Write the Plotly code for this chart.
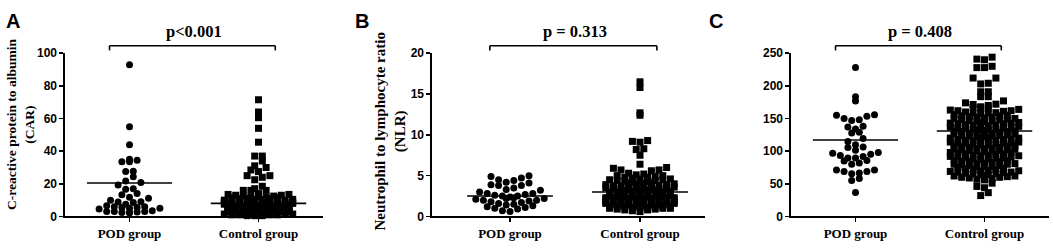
import math
import plotly.graph_objects as go

# ---------------- data ----------------
categories = ["POD group", "Control group"]
panel_letters = ["A", "B", "C"]
p_labels = ["p<0.001", "p = 0.313", "p = 0.408"]
y_titles = ["C-reactive protein to albumin<br>(CAR)",
            "Neutrophil to lymphocyte ratio<br>(NLR)", ""]

ticks_A = [0, 20, 40, 60, 80, 100]
ticks_B = [0, 5, 10, 15, 20]
ticks_C = [0, 50, 100, 150, 200, 250]

car_pod = [93, 55, 44, 35, 34.5, 33.5, 33.5, 27.7, 27.5, 24.3, 21.8, 20.8, 19.3,
           17, 16.6, 14, 13.3, 11.7, 11.2, 10, 9, 8.9, 8.5, 7.5, 6.5, 6, 6, 5.5,
           5.5, 5, 5, 4.5, 3.5, 3, 3, 3, 2.8, 2.5, 2.5, 2.2]
car_ctrl = [71.5, 64, 60.5, 54, 45.5, 37, 37, 34, 31, 30, 28.5, 27.5, 25, 25, 24,
            22.5, 18.5, 17, 16, 16, 16,
            14, 13.5, 13.5, 13, 13, 12.5, 12.5, 12, 12, 12, 11.5, 11.5, 11, 11, 11,
            10.5, 10.5, 10.5, 10, 10, 10, 10, 9.5, 9.5, 9.5, 9, 9, 9, 9, 8.5, 8.5,
            8.5, 8.5, 8, 8, 8, 8, 8, 7.5, 7.5, 7.5, 7.5, 7, 7, 7, 7, 7, 6.5, 6.5,
            6.5, 6.5, 6.5, 6, 6, 6, 6, 6, 6, 5.5, 5.5, 5.5, 5.5, 5.5, 5, 5, 5, 5,
            5, 5, 4.5, 4.5, 4.5, 4.5, 4.5, 4.5, 4, 4, 4, 4, 4, 4, 4, 3.5, 3.5, 3.5,
            3.5, 3.5, 3.5, 3, 3, 3, 3, 3, 3, 3, 2.5, 2.5, 2.5, 2.5, 2.5, 2.5, 2, 2,
            2, 2, 2, 2, 1.5, 1.5, 1.5, 1.5, 1.5, 1, 1, 1, 1, 0.5, 0.5, 0.5]
car_means = [20.5, 8.0]

nlr_pod = [5.0, 4.9, 4.7, 4.5, 4.4, 4.2, 4.1, 3.9, 3.8, 3.8, 3.5, 3.3, 3.2, 3.0,
           2.8, 2.8, 2.7, 2.6, 2.5, 2.5, 2.4, 2.3, 2.2, 2.2, 2.1, 2.0, 2.0, 1.9,
           1.8, 1.7, 1.6, 1.5, 1.4, 1.3, 1.2, 1.1, 1.0, 0.9, 0.7, 0.6]
nlr_ctrl = [16.5, 15.8, 12.7, 12.4, 9.3, 9.2, 9.1, 8.3, 8.2, 7.5, 6.4, 6.0, 5.9,
            5.7, 5.7, 5.6,
            5.3, 5.2, 5.1, 5.0, 5.0, 4.9, 4.8, 4.8, 4.7, 4.6, 4.6, 4.5, 4.5, 4.4,
            4.4, 4.3, 4.3, 4.2, 4.2, 4.1, 4.1, 4.0, 4.0, 4.0, 3.9, 3.9, 3.8, 3.8,
            3.8, 3.7, 3.7, 3.6, 3.6, 3.6, 3.5, 3.5, 3.5, 3.4, 3.4, 3.4, 3.3, 3.3,
            3.3, 3.2, 3.2, 3.2, 3.1, 3.1, 3.1, 3.0, 3.0, 3.0, 3.0, 2.9, 2.9, 2.9,
            2.8, 2.8, 2.8, 2.8, 2.7, 2.7, 2.7, 2.6, 2.6, 2.6, 2.6, 2.5, 2.5, 2.5,
            2.5, 2.4, 2.4, 2.4, 2.4, 2.3, 2.3, 2.3, 2.3, 2.2, 2.2, 2.2, 2.2, 2.1,
            2.1, 2.1, 2.1, 2.0, 2.0, 2.0, 2.0, 1.9, 1.9, 1.9, 1.9, 1.8, 1.8, 1.8,
            1.8, 1.7, 1.7, 1.7, 1.7, 1.6, 1.6, 1.6, 1.6, 1.5, 1.5, 1.5, 1.5, 1.4,
            1.4, 1.4, 1.4, 1.3, 1.3, 1.3, 1.3, 1.2, 1.2, 1.2, 1.1, 1.1, 1.1, 1.0,
            1.0, 1.0, 0.9, 0.9, 0.8, 0.8, 0.7, 0.6]
nlr_means = [2.5, 3.0]

plr_pod = [228, 183.5, 177, 155.6, 155, 153.6, 150, 148, 147, 138, 137, 134, 129,
           128, 119.5, 115, 110, 106.5, 105.5, 101.6, 97.8, 97, 95.4, 93.5, 92,
           89.6, 89.6, 85.7, 85, 82, 80, 71, 71, 69, 69, 66.5, 65.5, 58, 55, 36.6]
plr_ctrl = [244, 241, 240, 230, 228, 228, 212, 212, 204, 203, 191, 191, 183.5,
            183.5, 177, 174, 171.5, 51, 46, 44, 36.5, 32,
            56, 57, 58, 59, 60, 60, 61, 62, 62, 63, 64, 64,
            65, 66, 66, 67, 68, 68, 69, 70, 70, 71, 72, 72, 73, 74,
            75, 76, 76, 77, 78, 78, 79, 80, 80, 81, 82, 82, 83, 84, 84,
            85, 86, 86, 87, 88, 88, 89, 90, 90, 91, 91, 92, 93, 93, 94, 94,
            95, 96, 96, 97, 98, 98, 99, 100, 100, 101, 101, 102, 102, 103, 103,
            104, 104, 105, 106, 106, 107, 108, 108, 109, 110, 110, 111, 111, 112,
            112, 113, 113, 114, 114, 115, 116, 116, 117, 117, 118, 118, 119, 120,
            120, 121, 121, 122, 122, 123, 123, 124, 124, 125, 126, 126, 127, 127,
            128, 128, 129, 130, 130, 131, 131, 132, 132, 133, 133, 134, 134, 135,
            136, 136, 137, 137, 138, 139, 139, 140, 140, 141, 142, 142, 143, 143,
            144, 144, 145, 146, 146, 147, 148, 148, 149, 150, 150, 151, 152, 152,
            153, 154, 154, 155, 156, 157, 158, 158, 159, 160, 161, 162, 162, 163,
            164, 165, 166, 167, 168, 170, 172]
plr_means = [117, 131]

# ---------------- layout geometry (pixels) ----------------
W, H = 1053, 248
Y0_PX, YTOP_PX = 222, 49
panels = [
    dict(x0=65, x1=323, xr=[-0.5, 1.5], ymax=100, ticks=ticks_A,
         pod=car_pod, ctrl=car_ctrl, means=car_means, ytsize=13.5,
         ytx=21, yty=125, letter_x=13),
    dict(x0=432, x1=705, xr=[-0.6, 1.5], ymax=20, ticks=ticks_B,
         pod=nlr_pod, ctrl=nlr_ctrl, means=nlr_means, ytsize=15,
         ytx=391, yty=132, letter_x=362),
    dict(x0=791, x1=1049, xr=[-0.5, 1.5], ymax=250, ticks=ticks_C,
         pod=plr_pod, ctrl=plr_ctrl, means=plr_means, ytsize=15,
         ytx=760, yty=133, letter_x=716),
]

SERIF = "Liberation Serif"
SANS = "Liberation Sans"


def swarm(values, center, ppu_y, ppu_x, s=7.6, h=8.0, maxcols=10):
    """GraphPad-like column scatter: rows of height h px, columns s px apart."""
    bins = {}
    for v in sorted(values):
        b = math.floor(v * ppu_y / h + 0.5)
        bins.setdefault(b, []).append(v)
    xs, ys = [], []
    for b in sorted(bins):
        vs = bins[b]
        cap = maxcols - (b % 2)  # brick-like alternation of full rows
        k = min(len(vs), cap)
        cols = [j - (k - 1) / 2 for j in range(k)]
        order = sorted(range(k), key=lambda j: (abs(cols[j]), j))
        for i, v in enumerate(vs):
            off = cols[order[i % k]] * s
            xs.append(center + off / ppu_x)
            ys.append(v)
    return xs, ys


def ypaper(py):
    return 1 - py / H


fig = go.Figure()
shapes, annotations = [], []
layout_axes = {}

for i, p in enumerate(panels):
    n = "" if i == 0 else str(i + 1)
    xa, ya = "x" + n, "y" + n
    ppu_x = (p["x1"] - p["x0"]) / (p["xr"][1] - p["xr"][0])
    ppu_y = (Y0_PX - YTOP_PX) / p["ymax"]

    for gi, (vals, sym) in enumerate([(p["pod"], "circle"), (p["ctrl"], "square")]):
        xs, ys = swarm(vals, gi, ppu_y, ppu_x)
        fig.add_trace(go.Scatter(
            x=xs, y=ys, mode="markers", xaxis=xa, yaxis=ya, cliponaxis=False,
            marker=dict(symbol=sym, size=7, color="black", line=dict(width=0)),
            showlegend=False, hoverinfo="skip"))
        hw = 0.33 if gi == 0 else 0.37
        shapes.append(dict(type="line", xref=xa, yref=ya, x0=gi - hw, x1=gi + hw,
                           y0=p["means"][gi], y1=p["means"][gi],
                           line=dict(color="black", width=1.6)))

    # significance bracket
    by, bt = ypaper(41), ypaper(46)
    bl, br = -0.155, 1.13
    shapes.append(dict(type="line", xref=xa, yref="paper", x0=bl, x1=br, y0=by, y1=by,
                       line=dict(color="black", width=1.6)))
    for bx in (bl, br):
        shapes.append(dict(type="line", xref=xa, yref="paper", x0=bx, x1=bx, y0=by, y1=bt,
                           line=dict(color="black", width=1.6)))
    annotations.append(dict(text="<b>" + p_labels[i] + "</b>", xref=xa, yref="paper",
                            x=0.5, y=ypaper(26), showarrow=False,
                            xanchor="center", yanchor="middle",
                            font=dict(family=SERIF, size=16.5, color="black")))
    annotations.append(dict(text="<b>" + panel_letters[i] + "</b>", xref="paper",
                            yref="paper", x=p["letter_x"] / W, y=ypaper(15),
                            showarrow=False, xanchor="center", yanchor="middle",
                            font=dict(family=SANS, size=20, color="black")))
    if y_titles[i]:
        annotations.append(dict(text="<b>" + y_titles[i] + "</b>", xref="paper",
                                yref="paper", x=p["ytx"] / W, y=ypaper(p["yty"]),
                                showarrow=False, textangle=-90,
                                xanchor="center", yanchor="middle",
                                font=dict(family=SERIF, size=p["ytsize"], color="black")))

    layout_axes["xaxis" + n] = dict(
        domain=[p["x0"] / W, p["x1"] / W], range=p["xr"], anchor=ya,
        tickvals=[0, 1], ticktext=categories, showgrid=False, zeroline=False,
        showline=True, linecolor="black", linewidth=1.6, ticks="outside",
        ticklen=4, tickwidth=1.6, tickcolor="black",
        tickfont=dict(family=SERIF, size=13, color="black", weight="bold"))
    layout_axes["yaxis" + n] = dict(
        domain=[ypaper(Y0_PX), ypaper(YTOP_PX)], range=[0, p["ymax"]], anchor=xa,
        tickvals=p["ticks"], showgrid=False, zeroline=False, showline=True,
        linecolor="black", linewidth=1.6, ticks="outside", ticklen=4,
        tickwidth=1.6, tickcolor="black",
        tickfont=dict(family=SANS, size=12, color="black", weight="bold"))

fig.update_layout(width=W, height=H, margin=dict(l=0, r=0, t=0, b=0),
                  paper_bgcolor="white", plot_bgcolor="white",
                  shapes=shapes, annotations=annotations, **layout_axes)
fig.write_html("out.html",
               config={"displayModeBar": False, "staticPlot": True},
               post_script="document.body.style.margin='0';"
                           "document.body.style.overflow='hidden';")
